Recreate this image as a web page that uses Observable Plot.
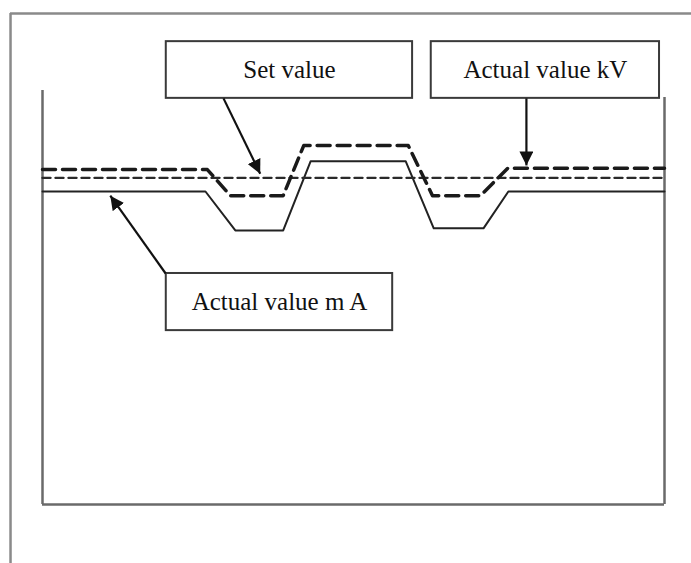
<!DOCTYPE html>
<html><head><meta charset="utf-8">
<script src="https://cdn.jsdelivr.net/npm/d3@7"></script>
<script src="https://cdn.jsdelivr.net/npm/@observablehq/plot@0.6"></script>
<style>html,body{margin:0;padding:0;background:#fff;} #chart svg{display:block}</style>
</head><body><div id="chart"></div>
<script>
// Series (time and level in arbitrary units, 0–100)
const timeMA  = [0, 26.2, 31.0, 38.7, 43.1, 58.4, 62.9, 70.9, 74.9, 100];
const levelMA = [75.6, 75.6, 66.2, 66.2, 82.9, 82.9, 66.7, 66.7, 75.6, 75.6];
const timeKV  = [0, 26.5, 30.2, 38.7, 42.0, 58.8, 62.7, 70.4, 74.8, 100];
const levelKV = [80.9, 80.9, 74.6, 74.6, 86.7, 86.7, 74.6, 74.6, 81.2, 81.2];
const timeSet  = [0, 100];
const levelSet = [78.9, 78.9];
const labels = ["Set value", "Actual value kV", "Actual value m A"];

// annotation layout (in data units)
const boxLayout = [
  {x1: 19.9, x2: 59.5, y1: 98.1, y2: 111.8},
  {x1: 62.5, x2: 99.2, y1: 98.1, y2: 111.8},
  {x1: 19.9, x2: 56.3, y1: 42.0, y2: 55.8}
];
const arrowLayout = [
  {x1: 29.1, y1: 98.1, x2: 35.0, y2: 79.9},
  {x1: 77.8, y1: 98.1, x2: 77.8, y2: 81.9},
  {x1: 19.8, y1: 55.8, x2: 10.9, y2: 74.6}
];

const seriesMA = timeMA.map((t, i) => ({t, v: levelMA[i]}));
const seriesKV = timeKV.map((t, i) => ({t, v: levelKV[i]}));
const seriesSet = timeSet.map((t, i) => ({t, v: levelSet[i]}));
const boxes = boxLayout.map((b, i) => ({...b, label: labels[i], cx: (b.x1 + b.x2) / 2, cy: (b.y1 + b.y2) / 2}));

function headMarker(color) {
  const ns = "http://www.w3.org/2000/svg";
  const m = document.createElementNS(ns, "marker");
  m.setAttribute("viewBox", "-10 -5 10 10");
  m.setAttribute("refX", "0");
  m.setAttribute("refY", "0");
  m.setAttribute("markerUnits", "userSpaceOnUse");
  m.setAttribute("markerWidth", "14");
  m.setAttribute("markerHeight", "14");
  m.setAttribute("orient", "auto");
  const p = document.createElementNS(ns, "path");
  p.setAttribute("d", "M-10,-5L0,0L-10,5Z");
  p.setAttribute("fill", "#111");
  p.setAttribute("stroke", "none");
  m.appendChild(p);
  return m;
}

const chart = Plot.plot({
  width: 691,
  height: 563,
  marginLeft: 42,
  marginRight: 27,
  marginTop: 90,
  marginBottom: 59,
  x: {domain: [0, 100], axis: null},
  y: {domain: [0, 100], axis: null},
  style: {background: "white"},
  marks: [
    // outer frame
    Plot.ruleX([-5.14], {y1: -16, y2: 118.6, stroke: "#8a8a8a", strokeWidth: 2.5}),
    Plot.ruleY([118.6], {x1: -5.14, x2: 106, stroke: "#8a8a8a", strokeWidth: 2.5}),
    // inner box
    Plot.ruleX([0], {y1: 0, y2: 100, stroke: "#6a6a6a", strokeWidth: 2.5}),
    Plot.ruleX([100], {y1: 0, y2: 98.3, stroke: "#6a6a6a", strokeWidth: 2.5}),
    Plot.ruleY([0], {x1: 0, x2: 100, stroke: "#6a6a6a", strokeWidth: 2.5}),
    // series
    Plot.line(seriesMA, {x: "t", y: "v", stroke: "#222", strokeWidth: 2}),
    Plot.line(seriesSet, {x: "t", y: "v", stroke: "#2a2a2a", strokeWidth: 2.4, strokeDasharray: "8,5"}),
    Plot.line(seriesKV, {x: "t", y: "v", stroke: "#1a1a1a", strokeWidth: 3.5, strokeDasharray: "13,7"}),
    // annotation boxes
    Plot.rect(boxes, {x1: "x1", x2: "x2", y1: "y1", y2: "y2", fill: "white", stroke: "#3a3a3a", strokeWidth: 2}),
    Plot.text(boxes, {x: "cx", y: "cy", text: "label", fontFamily: "Liberation Serif", fontSize: 25, fill: "#111"}),
    // arrows
    Plot.link(arrowLayout, {x1: "x1", y1: "y1", x2: "x2", y2: "y2", stroke: "#111", strokeWidth: 2.2, markerEnd: headMarker})
  ]
});
document.getElementById("chart").appendChild(chart);
</script>
</body></html>
